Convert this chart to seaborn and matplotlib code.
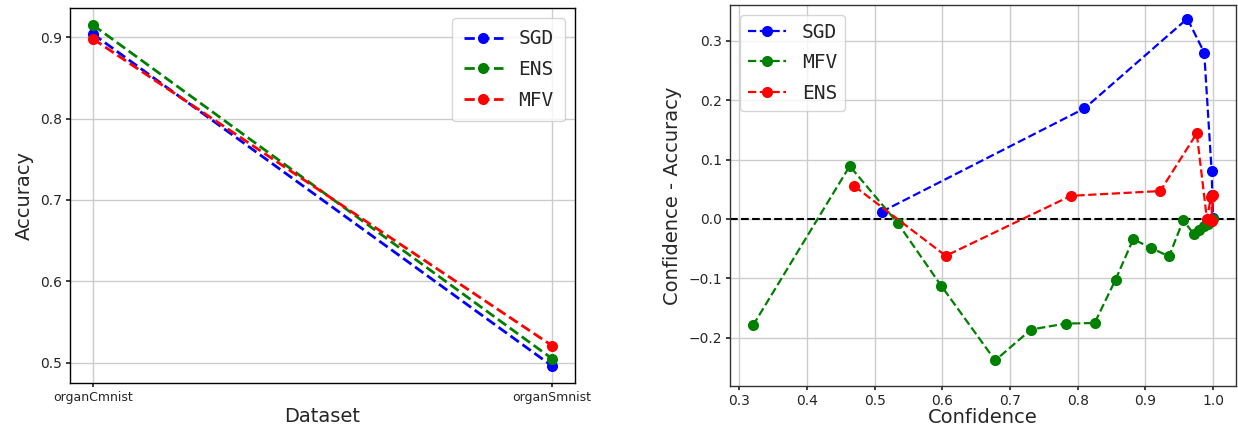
import matplotlib
matplotlib.use("Agg")
import matplotlib.pyplot as plt
import seaborn as sns
import numpy as np

# ---- data: left panel (accuracy per dataset) ----
datasets = ["organCmnist", "organSmnist"]
acc_sgd = [0.904, 0.496]
acc_ens = [0.915, 0.505]
acc_mfv = [0.898, 0.521]

# ---- data: right panel (confidence vs confidence - accuracy) ----
sgd_conf = [0.510, 0.810, 0.962, 0.987, 0.998, 0.999, 1.000]
sgd_gap = [0.012, 0.186, 0.337, 0.280, 0.080, 0.040, 0.002]

mfv_conf = [0.320, 0.463, 0.534, 0.598, 0.678, 0.731, 0.782, 0.825, 0.856,
            0.882, 0.909, 0.935, 0.956, 0.972, 0.980, 0.987, 0.993, 0.997, 1.000]
mfv_gap = [-0.179, 0.089, -0.007, -0.112, -0.238, -0.186, -0.176, -0.175, -0.102,
           -0.034, -0.049, -0.063, -0.002, -0.026, -0.018, -0.012, -0.008, -0.004, 0.000]

ens_conf = [0.470, 0.605, 0.790, 0.922, 0.976, 0.991, 0.997, 0.999, 1.000]
ens_gap = [0.055, -0.062, 0.039, 0.047, 0.144, 0.000, 0.037, -0.003, 0.040]

sns.set_theme(style="ticks")
plt.rcParams["font.family"] = ["DejaVu Sans"]

W, H = 1238, 428
fig = plt.figure(figsize=(W / 100, H / 100), dpi=100)
ax1 = fig.add_axes([70 / W, (H - 383) / H, (575 - 70) / W, (383 - 8) / H])
ax2 = fig.add_axes([730 / W, (H - 386) / H, (1236 - 730) / W, (386 - 5) / H])

grid_kw = dict(color="#cccccc", linewidth=1.0)
line_kw = dict(marker="o", linestyle="--", markersize=8, markeredgewidth=0)

# ---- left ----
xpos = np.arange(len(datasets))
for vals, col, lab in [(acc_sgd, "blue", "SGD"), (acc_ens, "green", "ENS"), (acc_mfv, "red", "MFV")]:
    sns.lineplot(x=xpos, y=vals, color=col, label=lab, ax=ax1, linewidth=2.0, **line_kw)
ax1.set_xticks(xpos)
ax1.set_xticklabels(datasets, fontsize=9)
ax1.set_yticks([0.5, 0.6, 0.7, 0.8, 0.9])
ax1.tick_params(axis="y", labelsize=10)
ax1.tick_params(length=3, pad=3)
ax1.set_xlabel("Dataset", fontsize=14, labelpad=2)
ax1.set_ylabel("Accuracy", fontsize=14, labelpad=4)
ax1.grid(True, **grid_kw)
ax1.legend(loc="upper right", prop={"family": "DejaVu Sans Mono", "size": 14},
           handlelength=2.0, borderpad=0.6, labelspacing=0.6)
for s in ax1.spines.values():
    s.set_color("black")
    s.set_linewidth(1.0)

# ---- right ----
ax2.axhline(0, color="black", linestyle="--", linewidth=1.5, zorder=1)
for cx, gy, col, lab in [(sgd_conf, sgd_gap, "blue", "SGD"),
                         (mfv_conf, mfv_gap, "green", "MFV"),
                         (ens_conf, ens_gap, "red", "ENS")]:
    sns.lineplot(x=cx, y=gy, color=col, label=lab, sort=False, estimator=None, ax=ax2,
                 linewidth=1.6, **line_kw)
ax2.set_xticks([0.3, 0.4, 0.5, 0.6, 0.7, 0.8, 0.9, 1.0])
ax2.set_yticks([-0.2, -0.1, 0.0, 0.1, 0.2, 0.3])
ax2.set_ylim(-0.281, 0.36)
ax2.tick_params(labelsize=10, length=3, pad=3)
ax2.set_xlabel("Confidence", fontsize=14, labelpad=0)
ax2.set_ylabel("Confidence - Accuracy", fontsize=14, labelpad=4)
ax2.grid(True, **grid_kw)
ax2.legend(loc="upper left", prop={"family": "DejaVu Sans Mono", "size": 14},
           handlelength=2.0, borderpad=0.4, labelspacing=0.6)
for s in ax2.spines.values():
    s.set_color("#333333")
    s.set_linewidth(1.0)

fig.savefig("out.png", dpi=100)
